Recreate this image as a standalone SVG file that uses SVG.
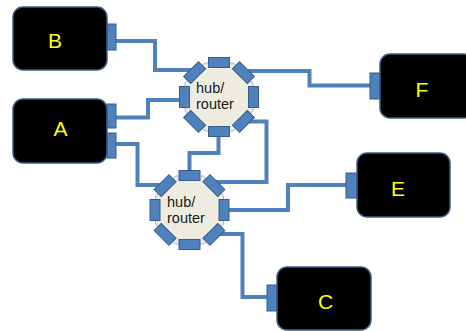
<svg xmlns="http://www.w3.org/2000/svg" xmlns:xlink="http://www.w3.org/1999/xlink" width="466" height="331" viewBox="0 0 466 331">
  <style>
    .box { fill: #000000; stroke: #385d8a; stroke-width: 1.5; }
    .port { fill: #4f81bd; stroke: #385d8a; stroke-width: 1; }
    .label { fill: #ffff00; font-family: "Liberation Sans", Arial, sans-serif; font-size: 21px; text-anchor: middle; }
    .hubtext { fill: #1a1a1a; font-family: "Liberation Sans", Arial, sans-serif; font-size: 14.5px; }
    .wire { fill: none; stroke: #4f81bd; stroke-width: 4; stroke-linejoin: miter; }
    .octagon { fill: #eeece1; stroke: #9fb3cf; stroke-width: 1; }
  </style>
  <defs>
    <!-- octagonal hub with a port on every face, centred on the origin -->
    <g id="hubShape">
      <polygon class="octagon" points="-14.1,-34 14.1,-34 34,-14.1 34,14.1 14.1,34 -14.1,34 -34,14.1 -34,-14.1"/>
      <rect class="port" x="-10.5" y="-39.5" width="21" height="10"/>
      <rect class="port" x="-10.5" y="-39.5" width="21" height="10" transform="rotate(45)"/>
      <rect class="port" x="-10.5" y="-39.5" width="21" height="10" transform="rotate(90)"/>
      <rect class="port" x="-10.5" y="-39.5" width="21" height="10" transform="rotate(135)"/>
      <rect class="port" x="-10.5" y="-39.5" width="21" height="10" transform="rotate(180)"/>
      <rect class="port" x="-10.5" y="-39.5" width="21" height="10" transform="rotate(225)"/>
      <rect class="port" x="-10.5" y="-39.5" width="21" height="10" transform="rotate(270)"/>
      <rect class="port" x="-10.5" y="-39.5" width="21" height="10" transform="rotate(315)"/>
    </g>
  </defs>

  <g id="connectors">
    <polyline class="wire" points="116,41 155,41 155,70 192,70"/>
    <polyline class="wire" points="116,117.5 148,117.5 148,100 181,100"/>
    <polyline class="wire" points="116,144 137.5,144 137.5,185 167,185"/>
    <polyline class="wire" points="245,71 309.5,71 309.5,85.5 370,85.5"/>
    <polyline class="wire" points="218.5,136 218.5,153 189.5,153 189.5,171"/>
    <polyline class="wire" points="245,121.5 266.5,121.5 266.5,182 212,182"/>
    <polyline class="wire" points="229,210 288,210 288,185 346,185"/>
    <polyline class="wire" points="212,234 242.5,234 242.5,297 267,297"/>
  </g>

  <g id="node-B">
    <rect class="port" x="107" y="24" width="9" height="26"/>
    <rect class="box" x="13" y="7" width="94" height="63" rx="10"/>
    <text class="label" x="55" y="47.5">B</text>
  </g>

  <g id="node-A">
    <rect class="port" x="107" y="104" width="9" height="24"/>
    <rect class="port" x="107" y="133" width="9" height="25"/>
    <rect class="box" x="13" y="99" width="94" height="64" rx="10"/>
    <text class="label" x="60.5" y="136">A</text>
  </g>

  <g id="node-F">
    <rect class="port" x="370" y="73" width="10" height="26"/>
    <rect class="box" x="380" y="54" width="94" height="64" rx="10"/>
    <text class="label" x="422" y="97">F</text>
  </g>

  <g id="node-E">
    <rect class="port" x="346" y="173" width="11" height="25"/>
    <rect class="box" x="357" y="153" width="93" height="64" rx="10"/>
    <text class="label" x="398" y="196">E</text>
  </g>

  <g id="node-C">
    <rect class="port" x="267" y="285" width="10" height="26"/>
    <rect class="box" x="277" y="267" width="94" height="63" rx="10"/>
    <text class="label" x="325.5" y="309">C</text>
  </g>

  <g id="hub-1">
    <use xlink:href="#hubShape" transform="translate(219,97)"/>
    <text class="hubtext" x="196" y="93">hub/</text>
    <text class="hubtext" x="196" y="109">router</text>
  </g>

  <g id="hub-2">
    <use xlink:href="#hubShape" transform="translate(189.5,210)"/>
    <text class="hubtext" x="167" y="207">hub/</text>
    <text class="hubtext" x="167" y="223">router</text>
  </g>
</svg>
